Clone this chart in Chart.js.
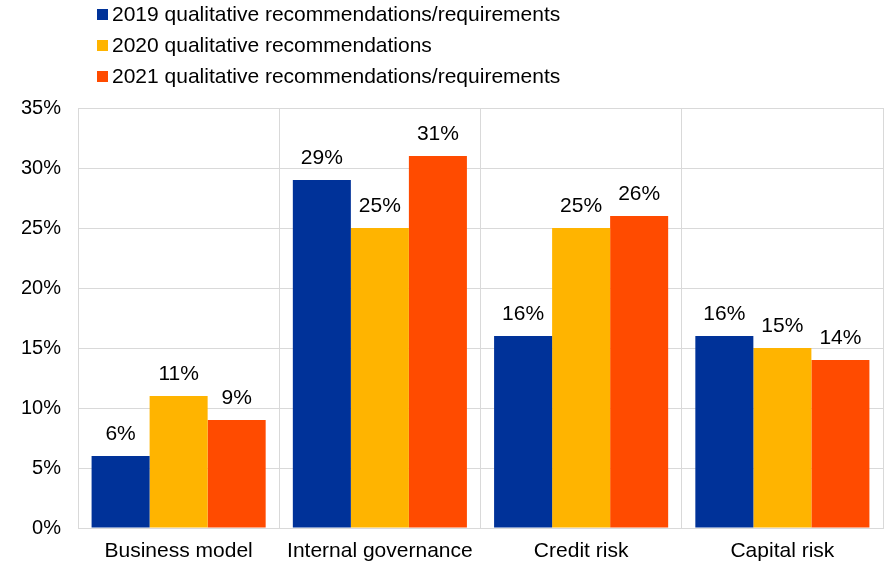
<!DOCTYPE html>
<html>
<head>
  <title>Qualitative recommendations by area</title>
  <script src="https://cdn.jsdelivr.net/npm/chart.js@4.4.0/dist/chart.umd.min.js"></script>
  <style>
    body { margin: 0; background: #fff; }
    #wrap { width: 887px; height: 563px; }
  </style>
</head>
<body>
  <div id="wrap"><canvas id="myCanvas"></canvas></div>
  <script>
    var categories = ["Business model", "Internal governance", "Credit risk", "Capital risk"];
    var seriesNames = [
      "2019 qualitative recommendations/requirements",
      "2020 qualitative recommendations",
      "2021 qualitative recommendations/requirements"
    ];
    var values2019 = [6, 29, 16, 16];
    var values2020 = [11, 25, 25, 15];
    var values2021 = [9, 31, 26, 14];
    var yTicks = [0, 5, 10, 15, 20, 25, 30, 35];

    var colours = ["#003299", "#FFB400", "#FF4B00"];
    var font = "'Liberation Sans', Arial, sans-serif";

    // legend stacked in one column at the top left
    var columnLegend = {
      id: 'columnLegend',
      afterDraw: function(chart) {
        var ctx = chart.ctx;
        ctx.save();
        ctx.font = "21px " + font;
        ctx.textBaseline = "middle";
        chart.data.datasets.forEach(function(ds, i) {
          var y = 14 + i * 31;
          ctx.fillStyle = ds.backgroundColor;
          ctx.fillRect(97, y - 5, 11, 11);
          ctx.fillStyle = "#000";
          ctx.fillText(ds.label, 112, y + 1);
        });
        ctx.restore();
      }
    };

    // value labels over the bars
    var barLabels = {
      id: 'barLabels',
      afterDatasetsDraw: function(chart) {
        var ctx = chart.ctx;
        ctx.save();
        ctx.font = "21px " + font;
        ctx.fillStyle = "#000";
        ctx.textAlign = "center";
        ctx.textBaseline = "alphabetic";
        chart.data.datasets.forEach(function(ds, i) {
          chart.getDatasetMeta(i).data.forEach(function(bar, j) {
            ctx.fillText(ds.data[j] + "%", bar.x, bar.y - 16);
          });
        });
        ctx.restore();
      }
    };

    new Chart(document.getElementById("myCanvas"), {
      type: 'bar',
      data: {
        labels: categories,
        datasets: [
          { label: seriesNames[0], backgroundColor: colours[0], data: values2019 },
          { label: seriesNames[1], backgroundColor: colours[1], data: values2020 },
          { label: seriesNames[2], backgroundColor: colours[2], data: values2021 }
        ]
      },
      options: {
        responsive: true,
        maintainAspectRatio: false,
        animation: false,
        categoryPercentage: 0.865,
        barPercentage: 1,
        layout: { padding: { top: 108, right: 4, bottom: 0, left: 0 } },
        plugins: {
          legend: { display: false },
          tooltip: { enabled: false }
        },
        scales: {
          x: {
            grid: { color: "#d9d9d9", drawTicks: false, offset: true },
            border: { color: "#d9d9d9" },
            ticks: { color: "#000", font: { family: font, size: 21 }, padding: 11, maxRotation: 0 },
            afterFit: function(s) { s.height = 35; }
          },
          y: {
            min: 0,
            max: 35,
            afterBuildTicks: function(s) { s.ticks = yTicks.map(function(v) { return { value: v }; }); },
            grid: { color: "#d9d9d9", drawTicks: false },
            border: { color: "#d9d9d9" },
            ticks: {
              color: "#000",
              font: { family: font, size: 20 },
              padding: 17,
              callback: function(v) { return v + "%"; }
            },
            afterFit: function(s) { s.width = 78; }
          }
        }
      },
      plugins: [columnLegend, barLabels]
    });
  </script>
</body>
</html>
